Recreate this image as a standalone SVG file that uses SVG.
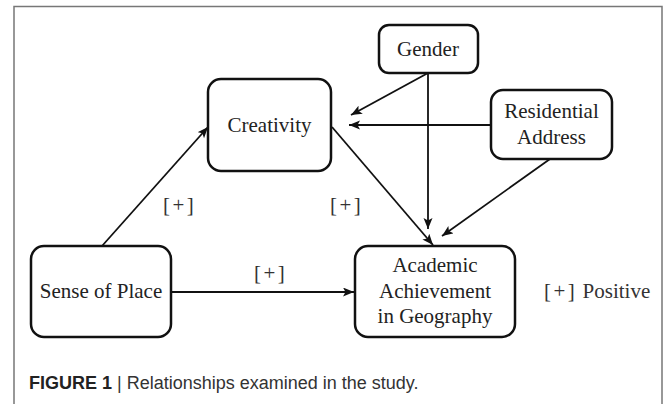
<svg xmlns="http://www.w3.org/2000/svg" width="669" height="404" viewBox="0 0 669 404">
<style>
.box{fill:#fff;stroke:#111;stroke-width:2.5}
.lbl{font-family:"Liberation Serif","Times New Roman",serif;font-size:21px;fill:#222;text-anchor:middle}
.sign{font-family:"Liberation Serif","Times New Roman",serif;font-size:21px;fill:#333}
.sp{letter-spacing:2.5px}
.conn line{stroke:#111;stroke-width:1.8;marker-end:url(#ah)}
.cap{font-family:"Liberation Sans",Arial,sans-serif;font-size:18px;fill:#333}
</style>
<defs>
<marker id="ah" markerUnits="userSpaceOnUse" markerWidth="12" markerHeight="10" refX="11" refY="4.5" orient="auto">
<path d="M0,0 L11,4.5 L0,9 L2.5,4.5 z" fill="#111"/>
</marker>
</defs>
<rect width="669" height="404" fill="#fff"/>
<path d="M14,410 L14,6.5 L662,6.5 L662,410" fill="none" stroke="#777" stroke-width="1.5"/>
<g id="connectors" class="conn">
<line x1="102" y1="246" x2="208" y2="127"/>
<line x1="171" y1="292" x2="354" y2="292"/>
<line x1="332" y1="127" x2="433" y2="245"/>
<line x1="428" y1="73" x2="351" y2="115"/>
<line x1="428" y1="73" x2="428" y2="229"/>
<line x1="491" y1="125" x2="349" y2="125"/>
<line x1="550" y1="159" x2="442" y2="236"/>
</g>
<g id="gender">
<rect class="box" x="379" y="25" width="99" height="48" rx="10"/>
<text class="lbl" x="428" y="56">Gender</text>
</g>
<g id="creativity">
<rect class="box" x="208" y="79" width="123" height="92" rx="13"/>
<text class="lbl" x="269.5" y="132">Creativity</text>
</g>
<g id="residential">
<rect class="box" x="491" y="90" width="121" height="69" rx="12"/>
<text class="lbl" x="551.5" y="118">Residential</text>
<text class="lbl" x="551.5" y="144">Address</text>
</g>
<g id="sense">
<rect class="box" x="31" y="246" width="140" height="91" rx="13"/>
<text class="lbl" x="101" y="298">Sense of Place</text>
</g>
<g id="academic">
<rect class="box" x="355" y="246" width="160" height="91" rx="13"/>
<text class="lbl" x="435" y="272">Academic</text>
<text class="lbl" x="435" y="298">Achievement</text>
<text class="lbl" x="435" y="323">in Geography</text>
</g>
<g id="labels">
<text class="sign sp" x="163" y="212">[+]</text>
<text class="sign sp" x="330" y="212">[+]</text>
<text class="sign sp" x="254" y="280">[+]</text>
<text class="sign" x="544" y="298"><tspan class="sp">[+]</tspan> Positive</text>
</g>
<text class="cap" x="29" y="389"><tspan font-weight="bold" fill="#222">FIGURE 1</tspan> | Relationships examined in the study.</text>
</svg>
